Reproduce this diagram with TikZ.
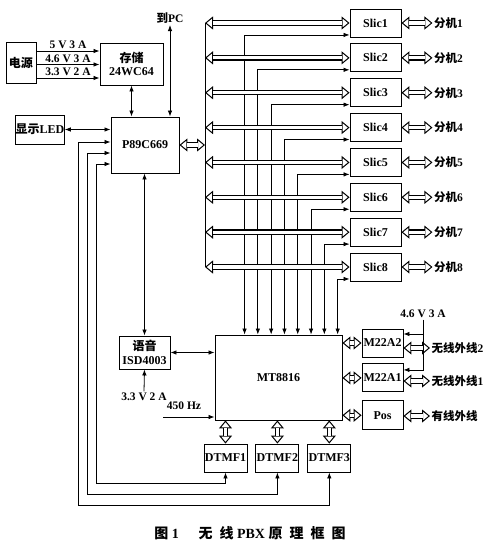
\documentclass[tikz,border=0pt]{standalone}
\usepackage{fontspec}
\setmainfont{Liberation Serif}
\newfontfamily\cjk{Noto Sans CJK SC}
\usetikzlibrary{arrows.meta, positioning, calc}

\begin{document}
\begin{tikzpicture}[x=1pt, y=-1pt,
    box/.style={draw, line width=0.9pt, inner sep=0pt, align=center,
                font=\fontsize{12}{13.5}\selectfont\bfseries},
    arr/.style={{Latex[length=6pt,width=4.5pt]}-{Latex[length=6pt,width=4.5pt]}, line width=0.8pt},
    feed/.style={-{Latex[length=6pt,width=4.5pt]}, line width=0.8pt},
    bus/.style={line width=5.4pt,
                {Triangle[open,length=8pt,width=13pt,line width=1pt]}-{Triangle[open,length=8pt,width=13pt,line width=1pt]},
                postaction={draw, white, line width=3.2pt, arrows=-, shorten <=7.5pt, shorten >=7.5pt}},
    lbl/.style={font=\fontsize{11.5}{13}\selectfont\bfseries, inner sep=1.5pt},
]
    \useasboundingbox (0,0) rectangle (500,548);

    \node[box, minimum width=30pt, minimum height=41pt] (psu) at (21,62.5) {\cjk 电源};
    \node[box, minimum width=63pt, minimum height=42pt] (mem) at (131.5,64) {{\cjk 存储}\\24WC64};
    \node[box, minimum width=48pt, minimum height=29pt] (led) at (40,129.5) {{\cjk 显示}LED};
    \node[box, minimum width=68pt, minimum height=56pt] (mcu) at (145,145) {P89C669};
    \node[lbl] (pc) at (170,18) {{\cjk 到}PC};

    \node[box, minimum width=127pt, minimum height=85pt] (mt) at (278.5,377.5) {MT8816};
    \node[box, minimum width=51pt, minimum height=33pt] (isd) at (144.5,352.5) {{\cjk 语音}\\ISD4003};
    \node[lbl] (vsup) at (144,397) {3.3 V 2 A};
    \node[lbl] (hz) at (184,406) {450 Hz};
    \coordinate (hzin) at (163,417);

    \node[box, minimum width=43pt, minimum height=28pt] (d1) at (225.5,458) {DTMF1};
    \node[box, minimum width=43pt, minimum height=28pt, right=8pt of d1] (d2) {DTMF2};
    \node[box, minimum width=43pt, minimum height=28pt, right=8pt of d2] (d3) {DTMF3};

    \node[box, minimum width=41pt, minimum height=28pt] (m2) at (382.5,343) {M22A2};
    \node[box, minimum width=41pt, minimum height=28pt, below=6pt of m2] (m1) {M22A1};
    \node[box, minimum width=41pt, minimum height=29pt, below=8pt of m1] (pos) {Pos};
    \node[lbl] (vm) at (423,314) {4.6 V 3 A};
    \node[lbl, anchor=west] (w2) at (430,348) {{\cjk 无线外线}2};
    \node[lbl, anchor=west] (w1) at (430,381) {{\cjk 无线外线}1};
    \node[lbl, anchor=west] (wl) at (430,416) {\cjk 有线外线};

    \coordinate (bustop) at (205,23);
    \coordinate (busbot) at (205,267);
    \draw[line width=0.9pt] (bustop) -- (busbot);

    \foreach \i in {1,...,8} {
        \node[box, minimum width=51pt, minimum height=28pt] (s\i) at (375.5,{23+(\i-1)*34.86}) {Slic\i};
        \node[lbl, right=31pt of s\i] (ext\i) {{\cjk 分机}\i};
        \draw[bus] (bustop |- s\i) -- (s\i.west);
        \draw[bus] (s\i.east) -- (ext\i.west);
        \draw[arr] ([xshift={30pt+(\i-1)*13.3pt}]mt.north west) |- ([yshift=2.5pt]s\i.south west);
    }

    \draw[feed] (psu.east |- 0,51) -- node[lbl, above]{5 V 3 A} (mem.west |- 0,51);
    \draw[feed] (psu.east |- 0,64.5) -- node[lbl, above]{4.6 V 3 A} (mem.west |- 0,64.5);
    \draw[feed] (psu.east |- 0,78) -- node[lbl, above]{3.3 V 2 A} (mem.west |- 0,78);

    \draw[arr] (mem.south) -- (mem.south |- mcu.north);
    \draw[arr] (pc.south) -- (pc.south |- mcu.north);
    \draw[arr] (led.east) -- (led.east -| mcu.west);
    \draw[bus] (mcu.east) -- (mcu.east -| bustop);
    \draw[arr] (isd.north) -- (isd.north |- mcu.south);
    \draw[arr] (isd.east) -- (isd.east -| mt.west);
    \draw[feed] (vsup.north) -- (isd.south);
    \draw[feed] (hzin) -- (hzin -| mt.west);

    \draw[arr] ([yshift=-19pt]mcu.west) -- ++(-14,0) |- ([yshift=-11pt]d1.south) -- (d1.south);
    \draw[arr] ([yshift=-8pt]mcu.west) -- ++(-23,0) |- ([yshift=-22pt]d2.south) -- (d2.south);
    \draw[arr] ([yshift=3pt]mcu.west) -- ++(-32,0) |- ([yshift=-33pt]d3.south) -- (d3.south);
    \foreach \d in {d1,d2,d3}
        \draw[bus] (\d.north) -- (\d.north |- mt.south);

    \draw[bus] (mt.east |- m2) -- (m2.west);
    \draw[bus] (mt.east |- m1) -- (m1.west);
    \draw[bus] (mt.east |- pos) -- (pos.west);
    \draw[bus] (w2.west -| m2.east) -- (w2.west);
    \draw[bus] (w1.west -| m1.east) -- (w1.west);
    \draw[bus] (wl.west -| pos.east) -- (wl.west);
    \draw[feed] (vm.south) |- ([yshift=8pt]m1.east);
    \draw[feed] ([yshift=9pt]m2.east -| vm.south) -- ([yshift=9pt]m2.east);

    \node[font=\fontsize{14}{16}\selectfont\bfseries] (cap) at (250,533)
        {{\cjk\addfontfeature{LetterSpace=50}图} 1\hspace{1.4em}{\cjk\addfontfeature{LetterSpace=50}无线} PBX {\cjk\addfontfeature{LetterSpace=50}原理框图}};
\end{tikzpicture}
\end{document}
